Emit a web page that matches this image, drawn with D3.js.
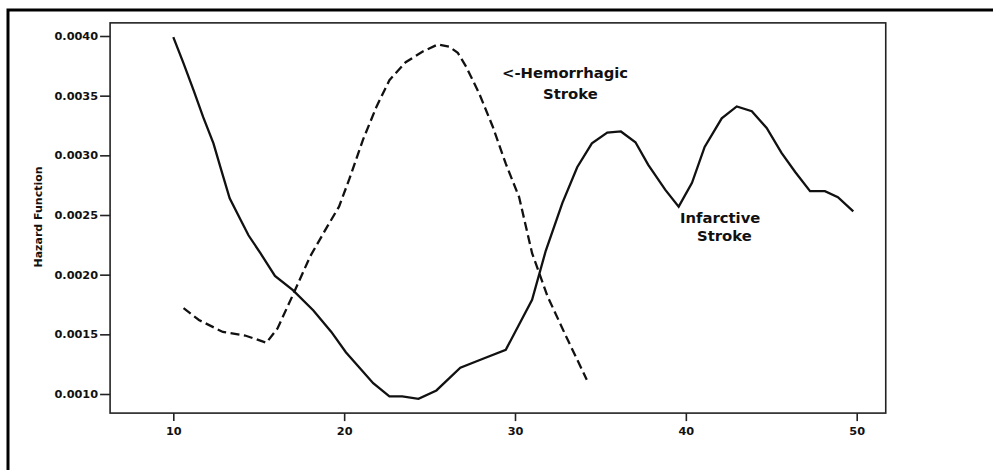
<!DOCTYPE html>
<html>
<head>
<meta charset="utf-8">
<script src="https://cdn.jsdelivr.net/npm/d3@7"></script>
<style>
  body { margin: 0; background: #fff; }
  svg text { font-family: "DejaVu Sans", sans-serif; font-weight: bold; fill: #111; }
</style>
</head>
<body>
<div id="chart"></div>
<script>
const svgWidth = 993;
const svgHeight = 470;

// tick values
const xTicks = [10, 20, 30, 40, 50];
const yTicks = [0.0010, 0.0015, 0.0020, 0.0025, 0.0030, 0.0035, 0.0040];

// infarctive stroke (solid)
const infarctAge = [10, 10.6, 11.2, 11.75, 12.35, 12.8, 13.3, 13.9, 14.4, 15.1, 15.95, 17.0, 18.2, 19.25,
    20.1, 21.7, 22.65, 23.4, 24.35, 25.4, 26.8, 28.2, 29.46, 31.0, 31.8, 32.77, 33.64, 34.5, 35.4, 36.2,
    37.05, 37.8, 38.8, 39.58, 40.36, 41.1, 42.1, 42.98, 43.86, 44.73, 45.6, 46.4, 47.27, 48.14, 48.9, 49.8];
const infarctHazard = [0.00399, 0.00377, 0.00354, 0.00332, 0.0031, 0.00288, 0.00264, 0.00247, 0.00233, 0.00218,
    0.00199, 0.00187, 0.0017, 0.00152, 0.00135, 0.00109, 0.00098, 0.00098, 0.00096, 0.00103, 0.00122, 0.0013,
    0.00137, 0.00179, 0.0022, 0.0026, 0.0029, 0.0031, 0.00319, 0.0032, 0.00311, 0.00292, 0.00271, 0.00257,
    0.00277, 0.00307, 0.00331, 0.00341, 0.00337, 0.00323, 0.00302, 0.00286, 0.0027, 0.0027, 0.00265, 0.00253];

// hemorrhagic stroke (dashed)
const hemoAge = [10.6, 11.5, 12.9, 14.2, 15.45, 16.1, 17.0, 18.0, 19.0, 19.7, 20.3, 21.1, 21.9, 22.65, 23.6,
    24.6, 25.5, 26.15, 26.65, 27.15, 27.9, 28.7, 29.46, 30.24, 31.0, 31.9, 33.0, 34.2];
const hemoHazard = [0.00172, 0.00162, 0.00152, 0.00149, 0.00143, 0.00155, 0.00183, 0.00215, 0.0024, 0.00257,
    0.0028, 0.00313, 0.00341, 0.00363, 0.00378, 0.00387, 0.00393, 0.00391, 0.00386, 0.00374, 0.00352, 0.00324,
    0.00293, 0.00265, 0.00218, 0.00182, 0.00148, 0.00112];

const svg = d3.select("#chart").append("svg")
    .attr("width", svgWidth)
    .attr("height", svgHeight);

// outer frame (left + top only)
svg.append("path")
    .attr("d", `M8,${svgHeight} L8,10 L${svgWidth},10`)
    .attr("fill", "none")
    .attr("stroke", "#000")
    .attr("stroke-width", 3);

const xScale = d3.scaleLinear().domain([10, 50]).range([173.3, 856.7]);
const yScale = d3.scaleLinear().domain([0.001, 0.004]).range([394, 36]);

const box = { left: xScale(6.3), right: xScale(51.7), top: yScale(0.00411), bottom: yScale(0.00084) };

svg.append("rect")
    .attr("x", box.left)
    .attr("y", box.top)
    .attr("width", box.right - box.left)
    .attr("height", box.bottom - box.top)
    .attr("fill", "none")
    .attr("stroke", "#222")
    .attr("stroke-width", 1.6);

const xAxis = d3.axisBottom(xScale).tickValues(xTicks).tickSize(8).tickPadding(6).tickFormat(d3.format("d"));
const yAxis = d3.axisLeft(yScale).tickValues(yTicks).tickSize(10).tickPadding(2).tickFormat(d3.format(".4f"));

const xAxisG = svg.append("g")
    .attr("transform", `translate(0, ${box.bottom})`)
    .call(xAxis);
const yAxisG = svg.append("g")
    .attr("transform", `translate(${box.left}, 0)`)
    .call(yAxis);

[xAxisG, yAxisG].forEach(g => {
    g.select(".domain").remove();
    g.selectAll(".tick line").attr("stroke", "#222").attr("stroke-width", 1.6);
    g.selectAll(".tick text").attr("font-size", "11.3px").attr("fill", "#111")
        .style("font-family", "DejaVu Sans").style("font-weight", "bold");
});

svg.append("text")
    .attr("transform", "translate(41.5, 217) rotate(-90)")
    .attr("text-anchor", "middle")
    .attr("font-size", "11px")
    .text("Hazard Function");

const line = d3.line()
    .x(d => xScale(d[0]))
    .y(d => yScale(d[1]));

svg.append("path")
    .datum(d3.zip(infarctAge, infarctHazard))
    .attr("d", line)
    .attr("fill", "none")
    .attr("stroke", "#111")
    .attr("stroke-width", 2.3);

svg.append("path")
    .datum(d3.zip(hemoAge, hemoHazard))
    .attr("d", line)
    .attr("fill", "none")
    .attr("stroke", "#111")
    .attr("stroke-width", 2.3)
    .attr("stroke-dasharray", "9,4.5");

// annotations
const notes = [
    { t: "<-Hemorrhagic", x: 502, y: 77.5 },
    { t: "Stroke", x: 543, y: 98.5 },
    { t: "Infarctive", x: 680, y: 222.5 },
    { t: "Stroke", x: 697, y: 241 }
];
svg.selectAll(".note").data(notes)
    .enter().append("text")
    .attr("class", "note")
    .attr("x", d => d.x)
    .attr("y", d => d.y)
    .attr("font-size", "14.8px")
    .text(d => d.t);
</script>
</body>
</html>
